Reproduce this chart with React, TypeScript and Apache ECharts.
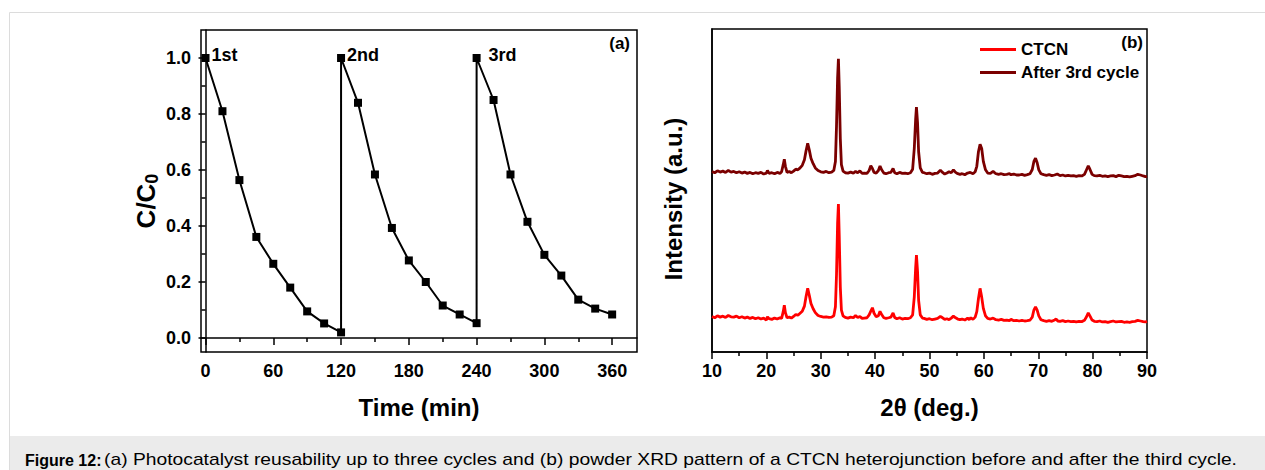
import React, { useEffect, useRef } from "react";
import * as echarts from "echarts";

// ---------- Panel (a): photocatalyst reusability ----------
const cycleTimes = [0, 15, 30, 45, 60, 75, 90, 105, 120];
const cycleStarts = [0, 120, 240];
const cycleLabels = ["1st", "2nd", "3rd"];
const cycle1 = [1.0, 0.81, 0.564, 0.361, 0.265, 0.18, 0.095, 0.052, 0.02];
const cycle2 = [1.0, 0.84, 0.584, 0.393, 0.277, 0.2, 0.116, 0.084, 0.053];
const cycle3 = [1.0, 0.85, 0.584, 0.415, 0.297, 0.223, 0.137, 0.105, 0.084];
const timeTicks = [0, 60, 120, 180, 240, 300, 360];
const timeMinorTicks = [30, 90, 150, 210, 270, 330];
const ratioTicks = [0, 0.2, 0.4, 0.6, 0.8, 1.0];
const ratioMinorTicks = [0.1, 0.3, 0.5, 0.7, 0.9];

// ---------- Panel (b): XRD patterns [2theta, intensity a.u.] ----------
const ctcnPattern: [number, number][] = [
  [10, 11.0], [10.5, 10.6], [11, 11.2], [11.5, 10.8], [12, 11.1], [12.5, 10.7], [13, 11.3], [13.5, 10.9],
  [14, 10.8], [14.5, 11.1], [15, 10.6], [15.5, 10.9], [16, 10.5], [16.5, 10.8], [17, 10.4], [17.5, 10.7],
  [18, 10.3], [18.5, 10.6], [19, 10.2], [19.5, 10.5], [20, 9.9], [20.2, 10.9], [20.5, 10.3], [21, 10.1],
  [21.5, 10.5], [22, 10.2], [22.5, 10.6], [22.8, 10.4], [23.1, 12.5], [23.3, 14.5], [23.5, 12.2], [23.8, 10.6],
  [24.2, 10.8], [24.6, 10.5], [25, 11.0], [25.4, 11.6], [25.8, 11.4], [26.2, 12.0], [26.6, 12.6], [27, 14.2],
  [27.3, 17.2], [27.6, 19.7], [27.9, 17.5], [28.2, 15.0], [28.6, 13.4], [29, 12.2], [29.5, 11.3], [30, 11.0],
  [30.5, 10.8], [31, 10.9], [31.5, 10.7], [32, 10.8], [32.4, 11.2], [32.7, 14], [32.9, 24], [33.1, 40],
  [33.25, 45.8], [33.4, 36], [33.6, 20], [33.8, 13], [34.1, 11.2], [34.5, 10.7], [35, 10.5], [35.5, 10.8],
  [36, 10.6], [36.4, 11.3], [36.8, 10.7], [37.2, 11.0], [37.6, 10.4], [38, 10.5], [38.5, 10.6], [38.9, 11.5],
  [39.3, 13.0], [39.5, 13.7], [39.8, 12.0], [40.2, 10.9], [40.6, 11.2], [40.9, 12.6], [41.2, 11.6], [41.6, 10.6],
  [42, 10.4], [42.5, 10.6], [42.9, 10.8], [43.3, 12.1], [43.6, 10.7], [44, 10.3], [44.5, 10.6], [45, 10.2],
  [45.5, 10.4], [46, 10.3], [46.5, 10.6], [46.9, 11.5], [47.2, 17], [47.45, 26], [47.6, 30], [47.8, 25],
  [48, 16], [48.3, 11.5], [48.7, 10.5], [49, 10.4], [49.5, 10.1], [50, 10.3], [50.5, 10.0], [51, 10.2],
  [51.5, 10.4], [52, 11.0], [52.4, 10.6], [52.8, 10.1], [53.2, 10.3], [53.6, 10.0], [54, 10.5], [54.4, 11.1],
  [54.8, 10.6], [55.2, 10.2], [55.6, 10.0], [56, 10.2], [56.5, 9.9], [57, 10.5], [57.3, 10.0], [57.6, 10.6],
  [58, 10.1], [58.4, 10.8], [58.7, 12.5], [59, 16.5], [59.3, 19.7], [59.6, 17], [59.9, 13.5], [60.3, 11.2],
  [60.7, 10.4], [61.2, 10.2], [61.7, 10.5], [62.2, 10.0], [62.7, 9.9], [63.2, 10.1], [63.7, 9.8], [64.2, 9.9],
  [64.7, 9.7], [65, 10.1], [65.5, 9.7], [66, 9.8], [66.5, 9.6], [67, 9.8], [67.5, 9.6], [68, 9.7],
  [68.5, 9.9], [68.9, 10.8], [69.2, 13.0], [69.5, 14.0], [69.8, 13.0], [70.1, 11.2], [70.5, 10.0], [71, 9.7],
  [71.5, 9.5], [72, 9.7], [72.5, 9.5], [73, 9.9], [73.3, 10.2], [73.6, 9.6], [74, 9.5], [74.5, 9.7],
  [75, 9.4], [75.5, 9.6], [76, 9.4], [76.5, 9.5], [77, 9.3], [77.5, 9.5], [78, 9.4], [78.5, 9.8],
  [78.9, 11.0], [79.2, 12.1], [79.5, 11.2], [79.9, 9.9], [80.3, 9.5], [80.8, 9.4], [81.3, 9.6], [81.8, 9.3],
  [82.3, 9.4], [82.8, 9.2], [83.3, 9.4], [83.8, 9.6], [84.3, 9.3], [84.8, 9.4], [85.3, 9.5], [85.8, 9.2],
  [86.3, 9.3], [86.8, 9.2], [87.3, 9.4], [87.8, 9.5], [88.3, 9.8], [88.8, 9.6], [89.3, 9.4], [89.7, 9.3],
  [90, 9.5],
];

const afterCyclePattern: [number, number][] = [
  [10, 55.9], [10.5, 55.5], [11, 56.1], [11.5, 55.7], [12, 56.0], [12.5, 55.6], [13, 56.2], [13.5, 55.7],
  [14, 55.9], [14.5, 55.5], [15, 55.8], [15.5, 55.4], [16, 55.7], [16.5, 55.3], [17, 55.6], [17.5, 55.2],
  [18, 55.5], [18.5, 55.3], [19, 55.6], [19.5, 55.1], [20, 55.4], [20.2, 56.2], [20.5, 55.3], [21, 55.5],
  [21.5, 55.2], [22, 55.6], [22.5, 55.3], [22.8, 55.8], [23.1, 58], [23.3, 59.7], [23.5, 57.5], [23.8, 55.6],
  [24.2, 55.9], [24.6, 55.5], [25, 56.0], [25.4, 56.6], [25.8, 56.4], [26.2, 57.0], [26.6, 57.8], [27, 59.5],
  [27.3, 62.3], [27.6, 64.6], [27.9, 62.5], [28.2, 60.0], [28.6, 58.3], [29, 57.0], [29.5, 56.2], [30, 55.8],
  [30.5, 55.6], [31, 55.9], [31.5, 55.5], [32, 55.7], [32.4, 56.2], [32.7, 59], [32.9, 70], [33.1, 85],
  [33.25, 90.8], [33.4, 82], [33.6, 66], [33.8, 58], [34.1, 56.0], [34.5, 55.5], [35, 55.4], [35.5, 55.7],
  [36, 55.4], [36.4, 55.9], [36.8, 55.5], [37.2, 56.1], [37.6, 55.3], [38, 55.4], [38.5, 55.3], [38.9, 56.2],
  [39.2, 57.7], [39.5, 56.8], [39.8, 55.6], [40.2, 55.4], [40.6, 56.2], [40.9, 57.6], [41.2, 56.4], [41.6, 55.4],
  [42, 55.2], [42.5, 55.5], [42.9, 55.6], [43.3, 56.8], [43.6, 55.5], [44, 55.2], [44.5, 55.6], [45, 55.3],
  [45.5, 55.4], [46, 55.2], [46.5, 55.5], [46.9, 56.6], [47.2, 63], [47.45, 72], [47.6, 75.8], [47.8, 71],
  [48, 62], [48.3, 57], [48.7, 55.6], [49, 55.5], [49.5, 55.2], [50, 55.4], [50.5, 55.0], [51, 55.3],
  [51.5, 55.4], [52, 56.3], [52.4, 55.6], [52.8, 55.1], [53.2, 55.4], [53.6, 55.8], [54, 55.5], [54.4, 56.4],
  [54.8, 55.6], [55.2, 55.2], [55.6, 55.0], [56, 55.2], [56.5, 54.9], [57, 55.4], [57.5, 55.6], [58, 55.2],
  [58.4, 55.8], [58.7, 57.5], [59, 62], [59.3, 64.3], [59.6, 63], [59.9, 59], [60.3, 56.4], [60.7, 55.4],
  [61.2, 55.3], [61.7, 55.9], [62.2, 55.2], [62.7, 55.0], [63.2, 55.2], [63.7, 54.9], [64.2, 55.0], [64.7, 55.2],
  [65, 54.9], [65.5, 55.1], [66, 54.8], [66.5, 54.8], [67, 55.0], [67.5, 54.7], [68, 54.9], [68.5, 55.2],
  [68.9, 56.5], [69.2, 59], [69.5, 60], [69.8, 58.6], [70.1, 56.4], [70.5, 55.2], [71, 54.9], [71.5, 54.7],
  [72, 54.9], [72.5, 54.6], [73, 54.8], [73.5, 55.1], [74, 54.6], [74.5, 54.8], [75, 54.5], [75.5, 54.7],
  [76, 54.5], [76.5, 54.6], [77, 54.4], [77.5, 54.6], [78, 54.5], [78.5, 55.0], [78.9, 56.5], [79.2, 57.6],
  [79.5, 56.6], [79.9, 55.0], [80.3, 54.6], [80.8, 54.5], [81.3, 54.7], [81.8, 54.4], [82.3, 54.5], [82.8, 54.3],
  [83.3, 54.5], [83.8, 54.6], [84.3, 54.3], [84.8, 54.7], [85.3, 54.5], [85.8, 54.3], [86.3, 54.4], [86.8, 54.2],
  [87.3, 54.4], [87.8, 54.6], [88.3, 55.0], [88.8, 54.8], [89.3, 54.5], [89.7, 54.3], [90, 54.4],
];

const seriesNames = ["CTCN", "After 3rd cycle"];
const captionBold = "Figure 12:";
const captionText =
  "(a) Photocatalyst reusability up to three cycles and (b) powder XRD pattern of a CTCN heterojunction before and after the third cycle.";

const FONT = 'Arial, "Liberation Sans", Helvetica, sans-serif';

export default function App() {
  const ref = useRef<HTMLDivElement>(null);

  useEffect(() => {
    if (!ref.current) return;
    const chart = echarts.init(ref.current, null, { renderer: "svg" });

    const cycles = [cycle1, cycle2, cycle3];
    const reuseData: any[] = [];
    cycles.forEach((vals, ci) => {
      vals.forEach((v, i) => {
        const item: any = { value: [cycleStarts[ci] + cycleTimes[i], v] };
        if (i === 0) {
          item.label = {
            show: true,
            formatter: cycleLabels[ci],
            position: "right",
            distance: ci === 2 ? 8 : 2,
            offset: [0, -3],
            color: "#000",
            fontSize: 18,
            fontWeight: "bold",
            fontFamily: FONT,
          };
        }
        reuseData.push(item);
      });
    });

    const tickLabel = { color: "#000", fontSize: 18, fontWeight: "bold" as const, fontFamily: FONT };
    const axisLineStyle = { lineStyle: { color: "#000", width: 1.5 } };
    const titleStyle = { color: "#000", fontSize: 24, fontWeight: "bold" as const, fontFamily: FONT };

    chart.setOption({
      animation: false,
      backgroundColor: "#fff",
      textStyle: { fontFamily: FONT },
      grid: [
        { left: 201, top: 30, width: 436, height: 322, show: true, borderColor: "#000", borderWidth: 1.5 },
        { left: 712, top: 29, width: 435, height: 323, show: true, borderColor: "#000", borderWidth: 1.5 },
      ],
      xAxis: [
        {
          gridIndex: 0,
          type: "value",
          min: -4,
          max: 382,
          position: "bottom",
          axisLine: axisLineStyle,
          axisTick: { inside: false, length: 7, customValues: timeTicks, lineStyle: { color: "#000", width: 1.5 } },
          axisLabel: { ...tickLabel, margin: 10, customValues: timeTicks },
          splitLine: { show: false },
          name: "Time (min)",
          nameLocation: "middle",
          nameGap: 43,
          nameTextStyle: titleStyle,
        },
        {
          gridIndex: 0,
          type: "value",
          min: -4,
          max: 382,
          position: "bottom",
          axisLine: { show: false },
          axisTick: { inside: false, length: 4, customValues: timeMinorTicks, lineStyle: { color: "#000", width: 1.5 } },
          axisLabel: { show: false },
          splitLine: { show: false },
        },
        {
          gridIndex: 1,
          type: "value",
          min: 10,
          max: 90,
          interval: 10,
          position: "bottom",
          axisLine: axisLineStyle,
          axisTick: { inside: false, length: 7, lineStyle: { color: "#000", width: 1.5 } },
          minorTick: { show: true, splitNumber: 2, length: 4, lineStyle: { color: "#000", width: 1.5 } },
          axisLabel: { ...tickLabel, margin: 10 },
          splitLine: { show: false },
          name: "2θ (deg.)",
          nameLocation: "middle",
          nameGap: 43,
          nameTextStyle: titleStyle,
        },
      ],
      yAxis: [
        {
          gridIndex: 0,
          type: "value",
          min: -0.05,
          max: 1.1,
          position: "left",
          axisLine: axisLineStyle,
          axisTick: { inside: false, length: 7, customValues: ratioTicks, lineStyle: { color: "#000", width: 1.5 } },
          axisLabel: {
            ...tickLabel,
            margin: 10,
            customValues: ratioTicks,
            formatter: (v: number) => v.toFixed(1),
          },
          splitLine: { show: false },
        },
        {
          gridIndex: 0,
          type: "value",
          min: -0.05,
          max: 1.1,
          position: "left",
          axisLine: { show: false },
          axisTick: { inside: false, length: 4, customValues: ratioMinorTicks, lineStyle: { color: "#000", width: 1.5 } },
          axisLabel: { show: false },
          splitLine: { show: false },
        },
        {
          gridIndex: 1,
          type: "value",
          min: 0,
          max: 100,
          position: "left",
          axisLine: axisLineStyle,
          axisTick: { show: false },
          axisLabel: { show: false },
          splitLine: { show: false },
        },
      ],
      legend: {
        data: seriesNames,
        orient: "vertical",
        left: 975,
        top: 36,
        itemWidth: 36,
        itemHeight: 3,
        itemGap: 6,
        icon: "rect",
        textStyle: { color: "#000", fontSize: 17, fontWeight: "bold", fontFamily: FONT },
      },
      series: [
        {
          type: "line",
          xAxisIndex: 0,
          yAxisIndex: 0,
          data: reuseData,
          symbol: "rect",
          symbolSize: 8,
          lineStyle: { color: "#000", width: 2 },
          itemStyle: { color: "#000" },
          silent: true,
        },
        {
          name: seriesNames[0],
          type: "line",
          xAxisIndex: 2,
          yAxisIndex: 2,
          data: ctcnPattern,
          symbol: "none",
          lineStyle: { color: "#ff0000", width: 2.8 },
          itemStyle: { color: "#ff0000" },
        },
        {
          name: seriesNames[1],
          type: "line",
          xAxisIndex: 2,
          yAxisIndex: 2,
          data: afterCyclePattern,
          symbol: "none",
          lineStyle: { color: "#7b0000", width: 2.8 },
          itemStyle: { color: "#7b0000" },
        },
      ],
      graphic: [
        {
          type: "rect",
          silent: true,
          z: -10,
          shape: { x: 9.5, y: 12.5, width: 1270, height: 470 },
          style: { fill: "none", stroke: "#dcdcdc", lineWidth: 1 },
        },
        {
          type: "rect",
          silent: true,
          z: -10,
          shape: { x: 10, y: 436, width: 1255, height: 34 },
          style: { fill: "#ebebeb" },
        },
        {
          type: "text",
          x: 146,
          y: 201,
          rotation: Math.PI / 2,
          style: {
            text: "{m|C/C}{s|0}",
            align: "center",
            verticalAlign: "middle",
            rich: {
              m: { fontSize: 26, fontWeight: "bold", fontFamily: FONT, lineHeight: 30, fill: "#000" },
              s: { fontSize: 18, fontWeight: "bold", fontFamily: FONT, lineHeight: 12, verticalAlign: "bottom", fill: "#000" },
            },
          },
        },
        {
          type: "text",
          x: 673,
          y: 199,
          rotation: Math.PI / 2,
          style: {
            text: "Intensity (a.u.)",
            align: "center",
            verticalAlign: "middle",
            fill: "#000",
            font: `bold 24px ${FONT}`,
          },
        },
        {
          type: "text",
          x: 630,
          y: 43,
          style: {
            text: "(a)",
            align: "right",
            verticalAlign: "middle",
            fill: "#000",
            font: `bold 17px ${FONT}`,
          },
        },
        {
          type: "text",
          x: 1143,
          y: 42,
          style: {
            text: "(b)",
            align: "right",
            verticalAlign: "middle",
            fill: "#000",
            font: `bold 17px ${FONT}`,
          },
        },
        {
          type: "text",
          x: 25,
          y: 460,
          style: {
            text: captionBold,
            verticalAlign: "middle",
            fill: "#000",
            font: `bold 16px ${FONT}`,
          },
        },
        {
          type: "text",
          x: 104,
          y: 460,
          scaleX: 1.205,
          style: {
            text: captionText,
            verticalAlign: "middle",
            fill: "#000",
            font: `16px ${FONT}`,
          },
        },
      ],
    });

    return () => chart.dispose();
  }, []);

  return (
    <div
      ref={ref}
      style={{ position: "absolute", left: 0, top: 0, width: 1265, height: 470, background: "#fff" }}
    />
  );
}
